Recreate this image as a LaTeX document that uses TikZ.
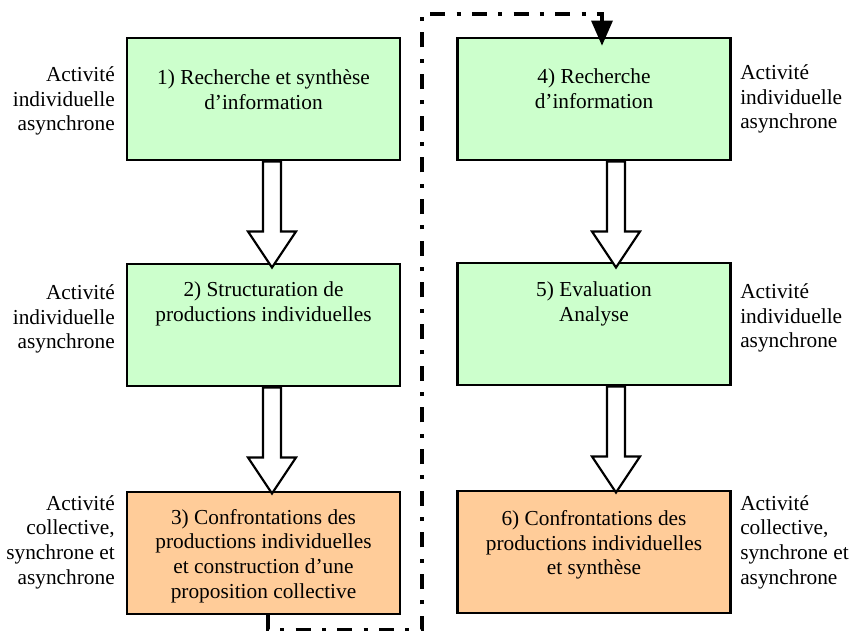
\documentclass[tikz,border=0pt]{standalone}
\usepackage{fontspec}
\setmainfont{Liberation Serif}
\usetikzlibrary{calc}
\definecolor{boxgreen}{HTML}{CCFFCC}
\definecolor{boxorange}{HTML}{FFCC99}
\tikzset{
  stepbox/.style={draw=black, line width=2.2pt, minimum width=273*0.75pt, minimum height=122*0.75pt, inner sep=0pt},
  greenbox/.style={stepbox, fill=boxgreen},
  orangebox/.style={stepbox, fill=boxorange},
  boxtext/.style={align=center, inner sep=0pt, font=\fontsize{16pt}{18.5pt}\selectfont},
  lefttext/.style={align=right, inner sep=0pt, anchor=east, font=\fontsize{16pt}{18.5pt}\selectfont},
  righttext/.style={align=left, inner sep=0pt, anchor=west, font=\fontsize{16pt}{18.5pt}\selectfont},
  hollow/.style={draw=black, line width=1.6pt, fill=white, line join=miter},
  dashdot/.style={draw=black, line width=2.6pt, dash pattern=on 11.25pt off 8.5pt on 3pt off 8.5pt},
}
\newcommand\hollowarrow[2]{%
  \draw[hollow] ($(#1.south)+(#2,0)$) ++(-9,0) -- ++(0,70) -- ++(-15,0) -- ++(24,36) -- ++(24,-36) -- ++(-15,0) -- ++(0,-70) -- cycle;}
\begin{document}
\begin{tikzpicture}[x=0.75pt,y=-0.75pt]
\useasboundingbox (0,0) rectangle (865,632);
% boxes
\node[greenbox] (b1) at (263.5,99) {};
\node[greenbox] (b2) at (263.5,325) {};
\node[orangebox] (b3) at (263.5,553) {};
\node[greenbox] (b4) at (594,99) {};
\node[greenbox] (b5) at (594,324) {};
\node[orangebox] (b6) at (594,552) {};
% box texts
\node[boxtext] (t1) at (263.5,90) {1) Recherche et synthèse\\d’information};
\node[boxtext] (t2) at (263.5,304) {2) Structuration de\\productions individuelles};
\node[boxtext] (t3) at (263.5,556) {3) Confrontations des\\productions individuelles\\et construction d’une\\proposition collective};
\node[boxtext] (t4) at (594,89) {4) Recherche\\d’information};
\node[boxtext] (t5) at (594,304) {5) Evaluation\\Analyse};
\node[boxtext] (t6) at (594,545) {6) Confrontations des\\productions individuelles\\et synthèse};
% side labels
\node[lefttext] (l1) at (115,101) {Activité\\individuelle\\asynchrone};
\node[lefttext] (l2) at (115,319) {Activité\\individuelle\\asynchrone};
\node[lefttext] (l3) at (115,542) {Activité\\collective,\\synchrone et\\asynchrone};
\node[righttext] (r1) at (740,99) {Activité\\individuelle\\asynchrone};
\node[righttext] (r2) at (740,318) {Activité\\individuelle\\asynchrone};
\node[righttext] (r3) at (740,542) {Activité\\collective,\\synchrone et\\asynchrone};
% hollow arrows
\hollowarrow{b1}{8.5}
\hollowarrow{b2}{8.5}
\hollowarrow{b4}{22}
\hollowarrow{b5}{22}
% dash-dot connector
\coordinate (c1) at ($(b3.south)+(4.5,0)$);
\coordinate (c4) at ($(b4.north)+(8,0)$);
\draw[dashdot] (c1) -- ++(0,14) -| (422,14) -| ($(c4)+(0,-15)$);
\fill[black] ($(c4)+(-11,-16)$) -- ($(c4)+(11,-16)$) -- ($(c4)+(0,9)$) -- cycle;
\end{tikzpicture}
\end{document}
